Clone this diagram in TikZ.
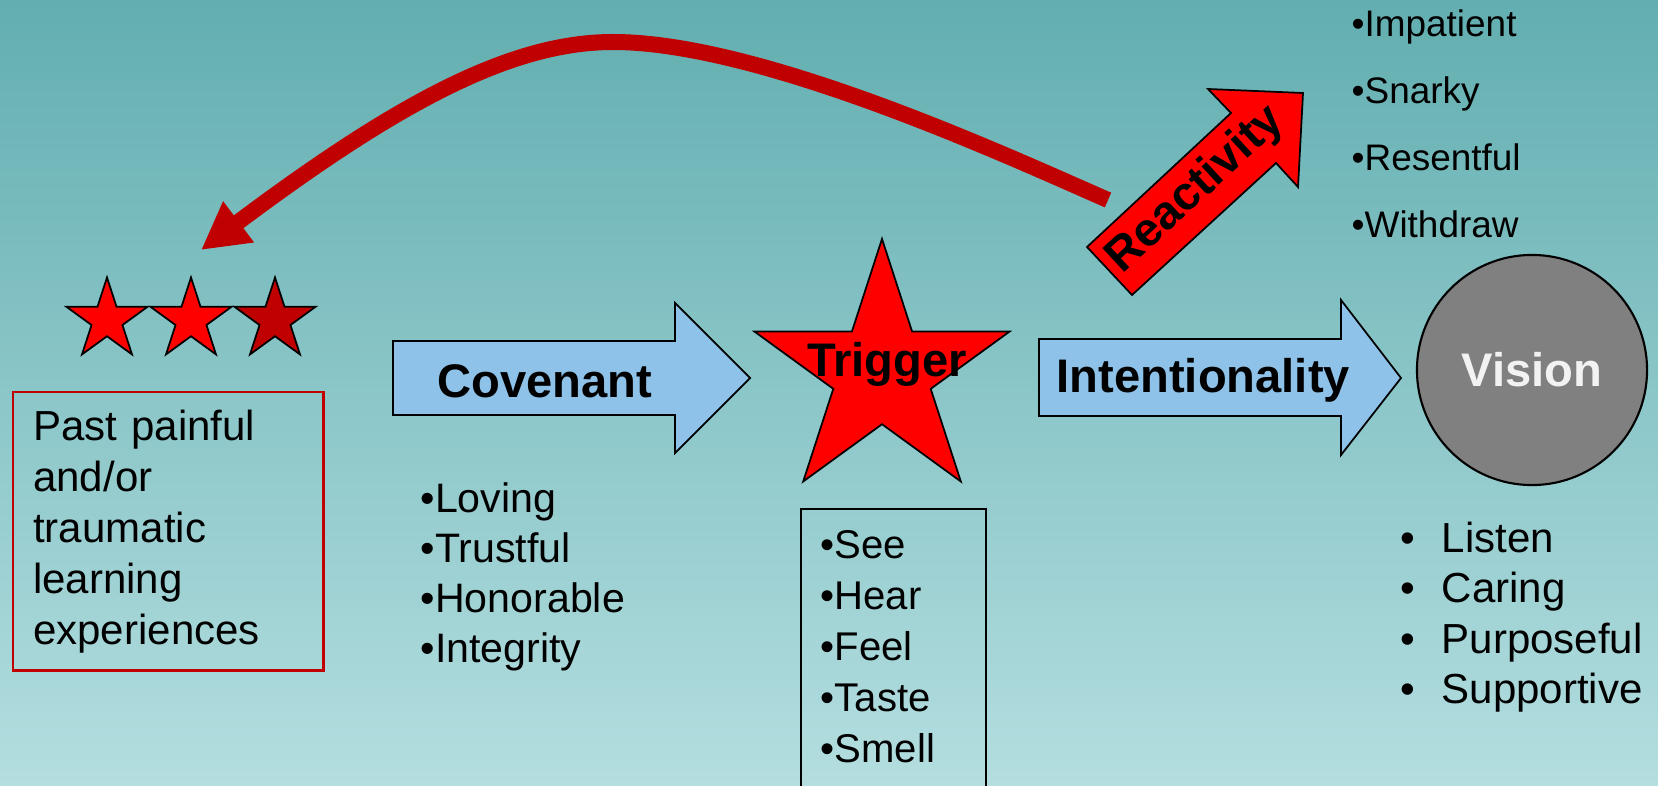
\documentclass[tikz,border=0pt]{standalone}
\usepackage{fontspec}
\setmainfont{Liberation Sans}
\usetikzlibrary{shapes.geometric,arrows.meta}
\definecolor{bgtop}{RGB}{98,174,176}
\definecolor{bgbot}{RGB}{180,222,224}
\definecolor{arrowblue}{RGB}{142,194,233}
\definecolor{darkred}{RGB}{192,0,0}
\definecolor{visiongray}{RGB}{128,128,128}
\definecolor{visiontext}{RGB}{242,242,242}
\begin{document}
\begin{tikzpicture}[x=0.01cm, y=-0.01cm, every node/.style={inner sep=0pt},
    listtxt/.style={anchor=base west, font=\fontsize{11.7}{14}\selectfont},
    toptxt/.style={anchor=base west, font=\fontsize{10.5}{12.6}\selectfont},
    headtxt/.style={font=\fontsize{13.4}{16}\selectfont\bfseries},
    blockarrow/.style={draw, fill=arrowblue, line width=0.5pt},
    starshape/.style={star, star points=5, star point ratio=2.618, draw, line width=0.5pt}]
  \useasboundingbox (0,0) rectangle (1658,785);
  \shade[top color=bgtop, bottom color=bgbot] (0,0) rectangle (1658,785);

  % past experiences
  \foreach \x/\c [count=\i] in {107/red,191/red,275/darkred}
    \node[starshape, fill=\c, minimum size=0.85cm] (s\i) at (\x,320) {};
  \node[draw=darkred, line width=0.7pt, anchor=north west, minimum width=3.1cm,
        minimum height=2.78cm, text width=2.7cm, inner xsep=0.2cm, align=left,
        font=\fontsize{11.95}{14.5}\selectfont] (past) at (12,391)
        {Past painful\\and/or\\traumatic\\learning\\experiences};

  % covenant
  \draw[blockarrow] (393,341) -- (675,341) -- (675,303) -- (750,378) -- (675,453)
        -- (675,415) -- (393,415) -- cycle;
  \node[headtxt, anchor=base west] (covenant) at (437,397) {Covenant};
  \foreach \w [count=\i] in {Loving,Trustful,Honorable,Integrity}
    \node[listtxt] (cov\i) at (420,{512+50.3*(\i-1)}) {•\w};

  % trigger
  \node[starshape, fill=red, minimum size=2.68cm] (trig) at (882,373) {};
  \node[headtxt, anchor=base] (trigtxt) at (887,376) {Trigger};
  \node[draw, line width=0.6pt, anchor=north west, minimum width=1.85cm,
        minimum height=3cm] (sensebox) at (800,508) {};
  \foreach \w [count=\i] in {See,Hear,Feel,Taste,Smell}
    \node[listtxt, font=\fontsize{11.4}{14}\selectfont] (sense\i) at (820,{558+51.2*(\i-1)}) {•\w};

  % intentionality and vision
  \draw[blockarrow] (1039,339) -- (1341,339) -- (1341,300) -- (1401,378) -- (1341,455)
        -- (1341,416) -- (1039,416) -- cycle;
  \node[headtxt, anchor=base west] (intent) at (1056,392) {Intentionality};
  \node[circle, draw, line width=0.6pt, fill=visiongray, minimum size=2.3cm,
        text=visiontext, headtxt] (vision) at (1532,370) {Vision};
  \foreach \w [count=\i] in {Listen,Caring,Purposeful,Supportive}
    \node[listtxt, font=\fontsize{11.95}{14}\selectfont] (vis\i) at (1441,{552+50.5*(\i-1)})
      {\llap{•\hspace{0.26cm}}\w};

  % reactivity
  \draw[fill=red, line width=0.5pt] (1087,247) -- (1231,113) -- (1208,89) -- (1303,93)
        -- (1298,187) -- (1276,163) -- (1132,295) -- cycle;
  \node[headtxt, rotate=42.7] (react) at (1196,190) {Reactivity};
  \foreach \w [count=\i] in {Impatient,Snarky,Resentful,Withdraw}
    \node[toptxt] (reac\i) at (1351,{37+67*(\i-1)}) {•\w};

  % back to the past
  \coordinate (loopstart) at (1108,200);
  \coordinate (looptop) at (613,42);
  \coordinate (looptip) at (201,250);
  \draw[darkred, line width=0.16cm, -{Triangle[length=0.47cm, width=0.48cm]}]
    (loopstart) .. controls (1016,160) and (763,42) .. (looptop)
    .. controls (513,42) and (401,100) .. (looptip);
\end{tikzpicture}
\end{document}
